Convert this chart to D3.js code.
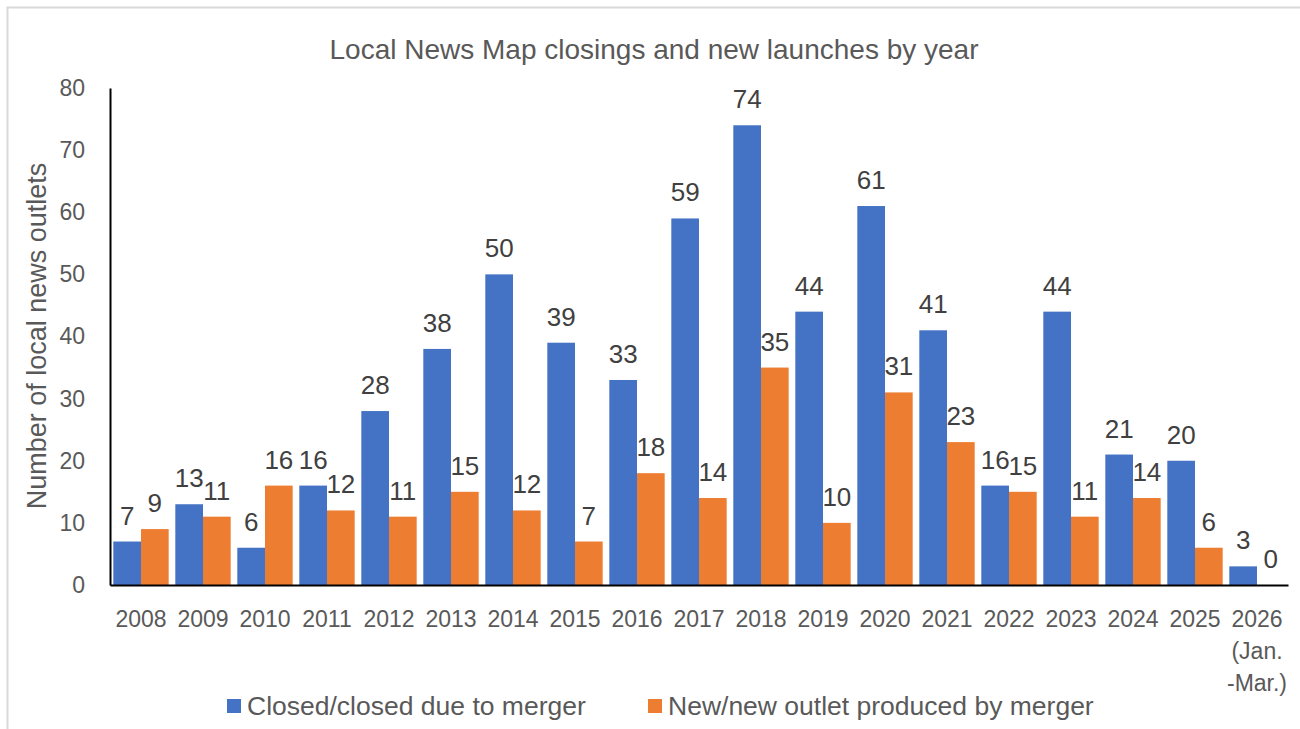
<!DOCTYPE html>
<html>
<head>
<meta charset="utf-8">
<script src="https://cdn.jsdelivr.net/npm/d3@7"></script>
<style>
body { margin: 0; background: #fff; overflow: hidden; }
svg { display: block; }
text { font-family: "Liberation Sans", Arial, sans-serif; }
</style>
</head>
<body>
<script>
//chart data
let years = ["2008", "2009", "2010", "2011", "2012", "2013", "2014", "2015", "2016", "2017",
	"2018", "2019", "2020", "2021", "2022", "2023", "2024", "2025", "2026\n(Jan.\n-Mar.)"];
let closed = [7, 13, 6, 16, 28, 38, 50, 39, 33, 59, 74, 44, 61, 41, 16, 44, 21, 20, 3];
let launched = [9, 11, 16, 12, 11, 15, 12, 7, 18, 14, 35, 10, 31, 23, 15, 11, 14, 6, 0];
let seriesNames = ["Closed/closed due to merger", "New/new outlet produced by merger"];
let seriesColors = ["#4472C4", "#ED7D31"];
let yTicks = [0, 10, 20, 30, 40, 50, 60, 70, 80];

let svg = d3.select("body").append("svg")
	.attr("width", 1300)
	.attr("height", 729);

//light frame, only top and left show in the picture
svg.append("path")
	.attr("d", "M7.5,729V7.5H1300")
	.attr("fill", "none")
	.attr("stroke", "#d9d9d9")
	.attr("stroke-width", 2);

let margin = { top: 88, left: 110, right: 12, bottom: 144 };
let innerWidth = 1300 - margin.left - margin.right;
let innerHeight = 729 - margin.top - margin.bottom;

let g = svg.append("g")
	.attr("transform", `translate(${margin.left}, ${margin.top})`);

let x = d3.scaleBand()
	.domain(years)
	.range([0, innerWidth]);

let xSub = d3.scaleBand()
	.domain([0, 1])
	.range([0, x.bandwidth()])
	.paddingOuter(0.12);

let y = d3.scaleLinear()
	.domain([0, 80])
	.range([innerHeight, 0]);

//title
svg.append("text")
	.attr("x", 654).attr("y", 59)
	.attr("text-anchor", "middle")
	.attr("font-size", 28)
	.attr("fill", "#595959")
	.text("Local News Map closings and new launches by year");

//y axis
let yG = g.append("g")
	.call(d3.axisLeft(y).tickValues(yTicks).tickSize(0).tickPadding(25));
yG.select(".domain").attr("stroke", "#000").attr("stroke-width", 2);
yG.selectAll("text").attr("font-size", 23).attr("fill", "#595959")
	.attr("font-family", "Liberation Sans, Arial, sans-serif");

svg.append("text")
	.attr("transform", "translate(46, 336) rotate(-90)")
	.attr("text-anchor", "middle")
	.attr("font-size", 27)
	.attr("fill", "#595959")
	.text("Number of local news outlets");

//bars, one entry per bar
let bars = [];
years.forEach((yr, i) => {
	bars.push({ year: yr, s: 0, v: closed[i] });
	bars.push({ year: yr, s: 1, v: launched[i] });
});

g.selectAll(".bar")
	.data(bars)
	.join("rect")
	.attr("class", "bar")
	.attr("x", d => x(d.year) + xSub(d.s))
	.attr("width", xSub.bandwidth())
	.attr("y", d => y(d.v))
	.attr("height", d => innerHeight - y(d.v))
	.attr("fill", d => seriesColors[d.s]);

g.selectAll(".lbl")
	.data(bars)
	.join("text")
	.attr("class", "lbl")
	.attr("x", d => x(d.year) + xSub(d.s) + xSub.bandwidth() / 2)
	.attr("y", d => y(d.v) - 17)
	.attr("text-anchor", "middle")
	.attr("font-size", 26)
	.attr("fill", "#404040")
	.text(d => d.v);

//x axis
let xG = g.append("g")
	.attr("transform", `translate(0, ${innerHeight})`)
	.call(d3.axisBottom(x).tickSize(0).tickPadding(0).tickFormat(""));
xG.select(".domain").attr("stroke", "#000").attr("stroke-width", 2);

xG.selectAll(".tick text").remove();
xG.selectAll(".tick").each(function(d) {
	let t = d3.select(this).append("text")
		.attr("text-anchor", "middle")
		.attr("font-size", 23)
		.attr("fill", "#595959");
	d.split("\n").forEach((line, k) => {
		t.append("tspan").attr("x", 0).attr("y", 42 + k * 32).text(line);
	});
});

//legend
let legendX = [227, 648];
seriesNames.forEach((name, i) => {
	svg.append("rect")
		.attr("x", legendX[i]).attr("y", 699)
		.attr("width", 14).attr("height", 14)
		.attr("fill", seriesColors[i]);
	svg.append("text")
		.attr("x", legendX[i] + 20).attr("y", 715)
		.attr("font-size", 26.5)
		.attr("fill", "#595959")
		.text(name);
});
</script>
</body>
</html>
